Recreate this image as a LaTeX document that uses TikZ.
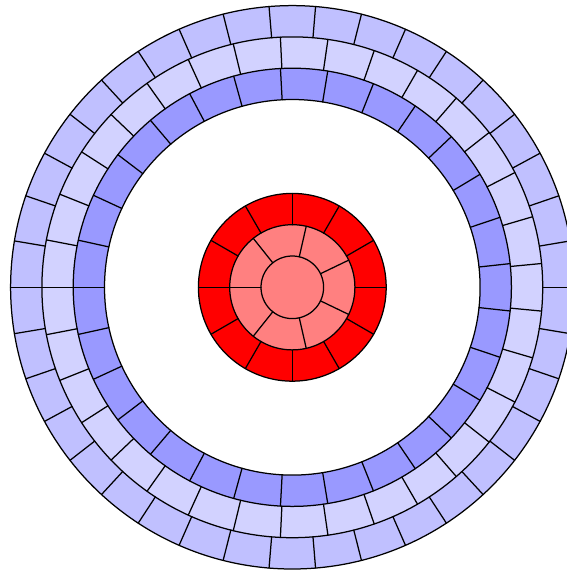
\documentclass[tikz,border=0pt]{standalone}
\usetikzlibrary{calc}
\definecolor{ringA}{HTML}{C0C0FF}
\definecolor{ringB}{HTML}{D2D2FF}
\definecolor{ringC}{HTML}{9999FF}
\definecolor{ringD}{HTML}{FF0000}
\definecolor{ringE}{HTML}{FF8080}
\tikzset{
  disc/.style={draw=black,line width=1.25pt},
  spoke/.style={draw=black,line width=1.25pt,line cap=round}
}
\begin{document}
\begin{tikzpicture}[x=1pt,y=1pt]
\useasboundingbox (0,0) rectangle (567,571);
\coordinate (c) at (292.3,283.7);
\def\U{31.3}
% discs, outermost first
\foreach \k/\col in {9/ringA,8/ringB,7/ringC}{
  \path[disc,fill=\col] (c) circle ({\k*\U});
}
\path[disc,fill=white] (c) circle ({6*\U});
\foreach \k/\col in {3/ringD,2/ringE,1/ringE}{
  \path[disc,fill=\col] (c) circle ({\k*\U});
}
% spokes: inner radius / outer radius / number of cells
\foreach \ri/\ro/\n in {8/9/38,7/8/33,6/7/29,2/3/12,1/2/7}{
  \pgfmathtruncatemacro{\last}{\n-1}
  \foreach \i in {0,...,\last}{
    \pgfmathsetmacro{\a}{180-\i*360/\n}
    \path[spoke] ($(c)+(\a:{\ri*\U})$) -- ($(c)+(\a:{\ro*\U})$);
  }
}
\end{tikzpicture}
\end{document}
